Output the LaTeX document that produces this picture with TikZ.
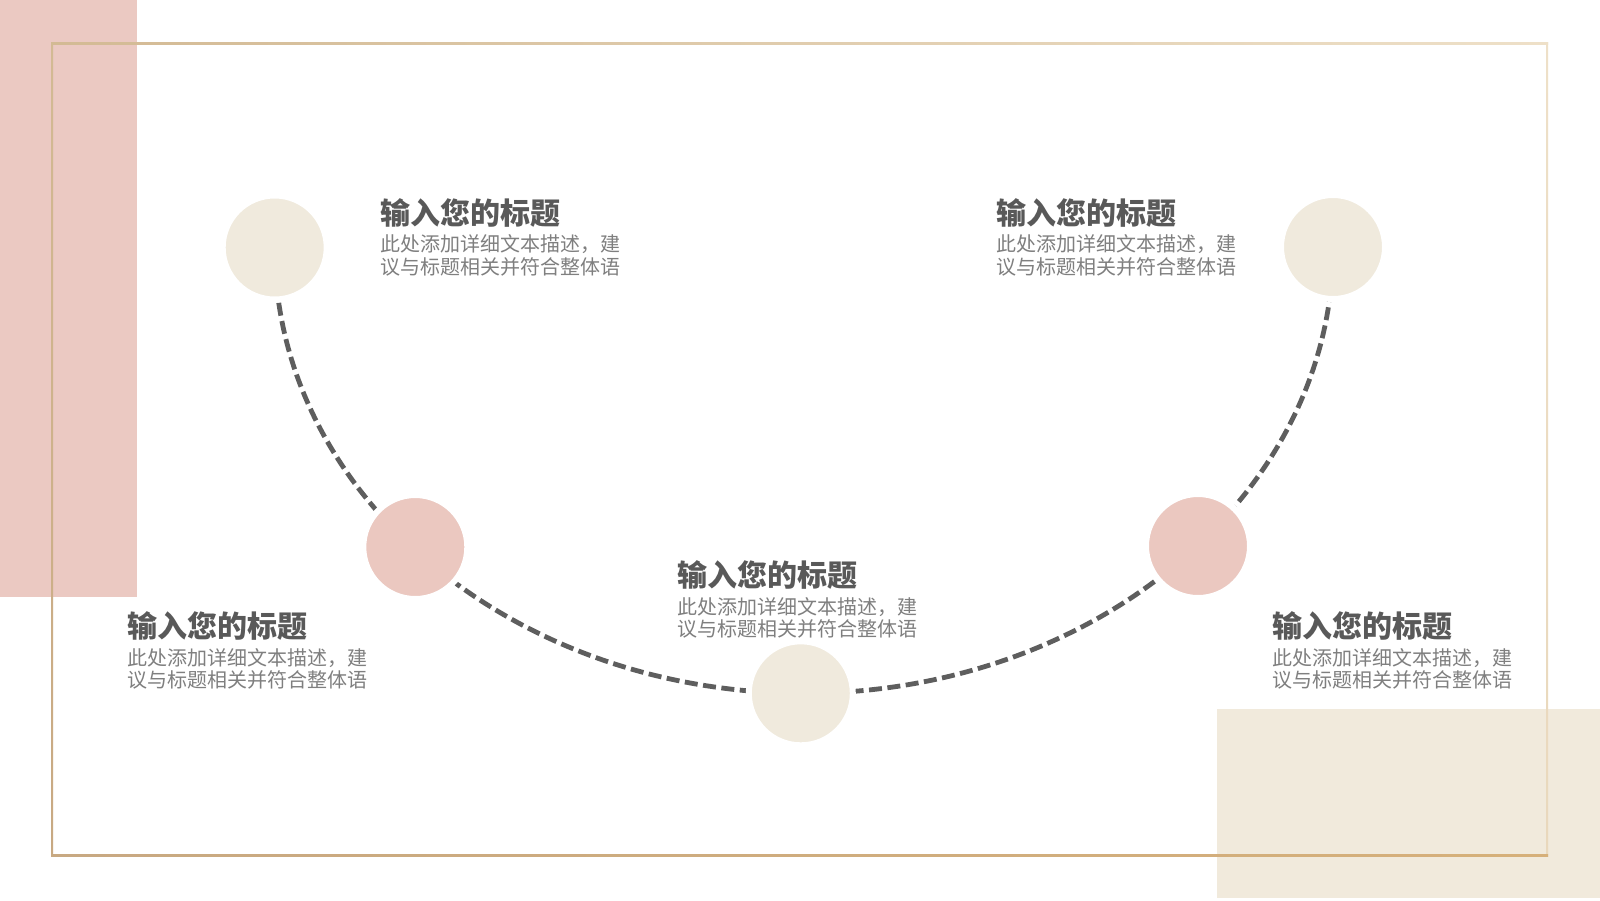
\documentclass[tikz,border=0pt]{standalone}
\usepackage{fontspec}
\newfontfamily\cjk{Noto Sans CJK SC}
\pgfdeclarelayer{bg}
\pgfsetlayers{bg,main}
\definecolor{pinkA}{HTML}{EBC9C2}
\definecolor{beigeA}{HTML}{F1EADC}
\definecolor{dotBeige}{HTML}{F0EADD}
\definecolor{dotPink}{HTML}{EBC8C0}
\definecolor{dashC}{HTML}{5E5E5E}
\definecolor{ttlC}{HTML}{595959}
\definecolor{dscC}{HTML}{7F7F7F}
\definecolor{goldA}{HTML}{D3BA94}
\definecolor{goldB}{HTML}{EEE0C8}
\definecolor{goldC}{HTML}{C8A982}
\definecolor{goldD}{HTML}{D6B07A}
\definecolor{goldE}{HTML}{E9D8BC}
\tikzset{
  dot/.style={circle, minimum size=104pt, inner sep=0pt, draw=white, line width=6pt},
  dashline/.style={draw=dashC, line width=4.8pt, dash pattern=on 13pt off 5.5pt},
  ttl/.style={font=\cjk\bfseries\fontsize{30}{36}\selectfont, text=ttlC, inner sep=0pt, anchor=base west},
  dsc/.style={font=\cjk\fontsize{20}{24}\selectfont, text=dscC, inner sep=0pt, anchor=base west}
}
\newcommand\txtblk[3]{%
  \node[ttl] (#1t) at (#2,#3) {输入您的标题};
  \node[dsc] (#1a) at (#2,#3+27.5) {此处添加详细文本描述，建};
  \node[dsc] (#1b) at (#2,#3+50) {议与标题相关并符合整体语};
}
\begin{document}
\begin{tikzpicture}[x=1pt,y=-1pt]
\useasboundingbox (0,0) rectangle (1600,900);
% circles
\node[dot, fill=dotBeige] (c1) at (274.7,247.5) {};
\node[dot, fill=dotPink]  (c2) at (415.3,547) {};
\node[dot, fill=dotBeige] (c3) at (800.8,693.3) {};
\node[dot, fill=dotPink]  (c4) at (1198,546) {};
\node[dot, fill=dotBeige] (c5) at (1333,247) {};
\begin{pgfonlayer}{bg}
  \fill[white] (0,0) rectangle (1600,900);
  \fill[pinkA] (0,0) rectangle (137,597);
  \fill[beigeA] (1217,709) rectangle (1600,898);
  % frame
  \shade[left color=goldA, right color=goldB] (51,42) rectangle (1548,44);
  \shade[top color=goldB, bottom color=goldE] (1546,42) rectangle (1548,856);
  \shade[left color=goldC, middle color=goldE, right color=goldD] (51,854) rectangle (1548,856);
  \shade[top color=goldA, bottom color=goldC] (51,42) rectangle (53,856);
  % dashed connector
  \draw[dashline] (c1.center) arc[start angle=180, end angle=360, x radius=529.2pt, y radius=445.8pt];
\end{pgfonlayer}
% texts
\txtblk{b1}{380.5}{224}
\txtblk{b2}{996}{224}
\txtblk{b3}{677.5}{586.5}
\txtblk{b4}{127.7}{637.5}
\txtblk{b5}{1272}{637.5}
\end{tikzpicture}
\end{document}
